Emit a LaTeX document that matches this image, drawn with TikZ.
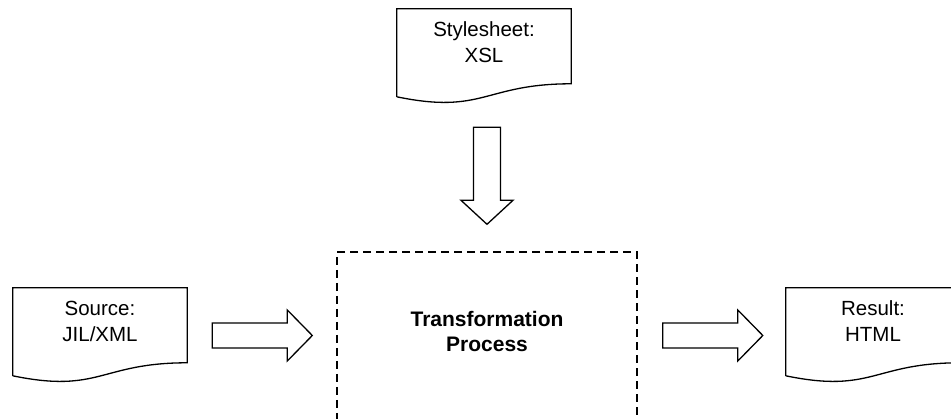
\documentclass[tikz,border=0pt]{standalone}
\usepackage{fontspec}
\setmainfont{Liberation Sans}
\usetikzlibrary{calc}

% Document shape: flat top, straight sides, wavy bottom edge
\newcommand{\docoutline}[1]{%
  \draw[docline] ($(#1.north west)+(0,88)$) -- (#1.north west) -- (#1.north east)
    -- ++(0,75) .. controls +(-87,0) and +(87,18) .. ($(#1.north west)+(0,88)$);}

% Hollow horizontal block arrow from #1 to #2
\newcommand{\hblock}[2]{%
  \draw[blockarrow] ($(#1)+(0,-12.5)$) -- ($(#2)+(-25,-12.5)$) -- ($(#2)+(-25,-25.5)$)
    -- (#2) -- ($(#2)+(-25,25.5)$) -- ($(#2)+(-25,12.5)$) -- ($(#1)+(0,12.5)$) -- cycle;}

% Hollow vertical (downward) block arrow from #1 to #2
\newcommand{\vblock}[2]{%
  \draw[blockarrow] ($(#1)+(-13.5,0)$) -- ($(#2)+(-13.5,-24)$) -- ($(#2)+(-26,-24)$)
    -- (#2) -- ($(#2)+(26,-24)$) -- ($(#2)+(13.5,-24)$) -- ($(#1)+(13.5,0)$) -- cycle;}

\begin{document}
\begin{tikzpicture}[x=1pt,y=-1pt,line join=miter,
  docline/.style={draw=black,line width=1.3pt},
  doctext/.style={align=center,font=\fontsize{20.5}{26}\selectfont,
    minimum width=174,minimum height=66,inner sep=0pt},
  blockarrow/.style={draw=black,fill=white,line width=1.3pt},
  procbox/.style={draw=black,line width=1.4pt,dash pattern=on 8pt off 5pt,
    minimum width=300,minimum height=188,inner sep=0pt},
  proctext/.style={align=center,font=\fontsize{21}{25}\selectfont\bfseries}]

\fill[white] (0,0) rectangle (951,419);
\useasboundingbox (0,0) rectangle (951,419);
\clip (0,0) rectangle (951,419);

% documents
\node[doctext] (sty) at (484,42)  {Stylesheet:\\XSL};
\node[doctext] (src) at (100,321) {Source:\\JIL/XML};
\node[doctext] (res) at (873,321) {Result:\\HTML};
\docoutline{sty}
\docoutline{src}
\docoutline{res}

% transformation process
\node[procbox] (proc) at (487,346) {};
\node[proctext] (proctxt) at (487,331) {Transformation\\Process};

% connector end points
\coordinate (a1s) at ($(src.east)+(25,14.5)$);
\coordinate (a1e) at ($(proc.west)+(-24,-10.5)$);
\coordinate (a2s) at ($(proc.east)+(25,-10.5)$);
\coordinate (a2e) at ($(res.west)+(-23,14.5)$);
\coordinate (a3s) at ($(proc.north)+(0,-124)$);
\coordinate (a3e) at ($(proc.north)+(0,-27)$);

\hblock{a1s}{a1e}
\hblock{a2s}{a2e}
\vblock{a3s}{a3e}

\end{tikzpicture}
\end{document}
